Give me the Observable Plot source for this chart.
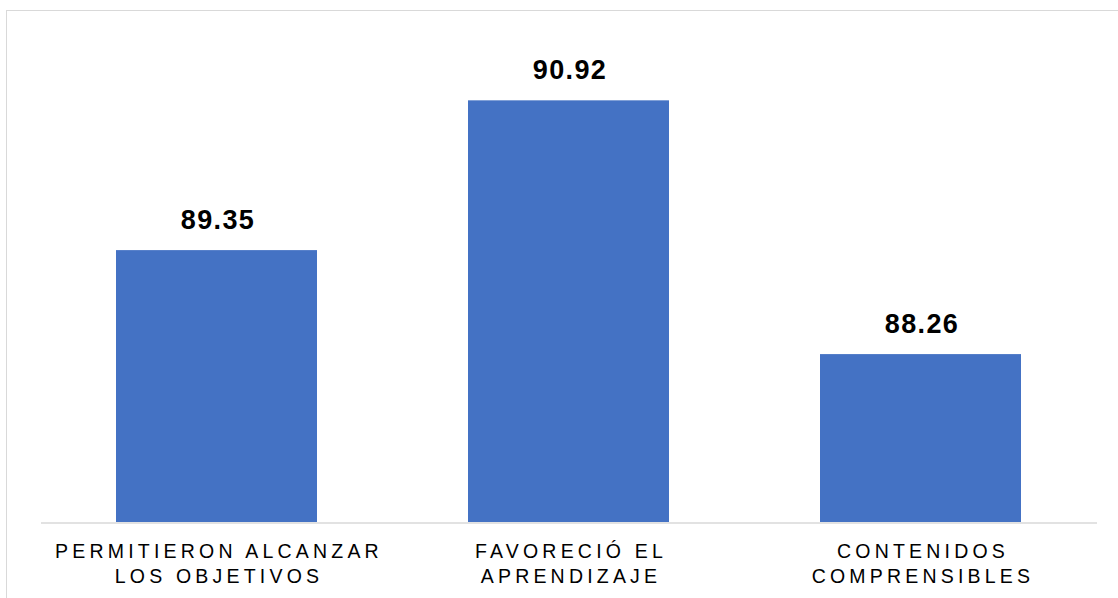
<!DOCTYPE html>
<html>
<head>
<meta charset="utf-8">
<script src="https://cdn.jsdelivr.net/npm/d3@7"></script>
<script src="https://cdn.jsdelivr.net/npm/@observablehq/plot@0.6"></script>
<style>
  html, body { margin: 0; padding: 0; background: #fff; overflow: hidden; }
  #wrap { position: relative; width: 1118px; height: 598px; overflow: hidden; }
  #border { position: absolute; left: 6px; top: 10px; width: 1200px; height: 700px; border-left: 1.5px solid #d9d9d9; border-top: 1.5px solid #d9d9d9; }
  #chart { position: absolute; left: 0; top: 0; }
</style>
</head>
<body>
<div id="wrap"><div id="border"></div><div id="chart"></div></div>
<script>
const categories = ["Permitieron alcanzar los objetivos", "Favoreció el aprendizaje", "Contenidos comprensibles"];
const tickLabels = ["PERMITIERON ALCANZAR\nLOS OBJETIVOS", "FAVORECIÓ EL\nAPRENDIZAJE", "CONTENIDOS\nCOMPRENSIBLES"];
const values = [89.35, 90.92, 88.26];
const valueLabels = ["89.35", "90.92", "88.26"];
const yDomain = [86.5, 91.5];

const data = categories.map((c, i) => ({category: c, value: values[i], label: valueLabels[i], tick: tickLabels[i]}));

const chart = Plot.plot({
  width: 1118,
  height: 598,
  marginLeft: 41,
  marginRight: 21,
  marginTop: 45,
  marginBottom: 76,
  style: {fontFamily: "'Liberation Sans', Arial, sans-serif", background: "transparent", overflow: "visible"},
  x: {domain: categories, axis: null, paddingInner: 0.4286, paddingOuter: 0.2143},
  y: {domain: yDomain, axis: null},
  marks: [
    Plot.barY(data, {x: "category", y1: yDomain[0], y2: "value", fill: "#4472C4"}),
    Plot.ruleY([yDomain[0]], {stroke: "#d9d9d9", strokeWidth: 1.5, dy: 0.5}),
    Plot.text(data, {x: "category", y: "value", text: "label", dy: -22, dx: 1, lineAnchor: "bottom", fontSize: 27, fontWeight: "bold", fill: "#000"}),
    Plot.text(data, {x: "category", y: yDomain[0], text: "tick", dy: 17, dx: 2, lineAnchor: "top", fontSize: 19.5, lineHeight: 1.3, fill: "#000"})
  ]
});
const textGroups = chart.querySelectorAll('g[aria-label="text"]');
if (textGroups[0]) textGroups[0].style.letterSpacing = "1.4px";
if (textGroups[1]) textGroups[1].style.letterSpacing = "4.2px";
document.getElementById("chart").appendChild(chart);
</script>
</body>
</html>
